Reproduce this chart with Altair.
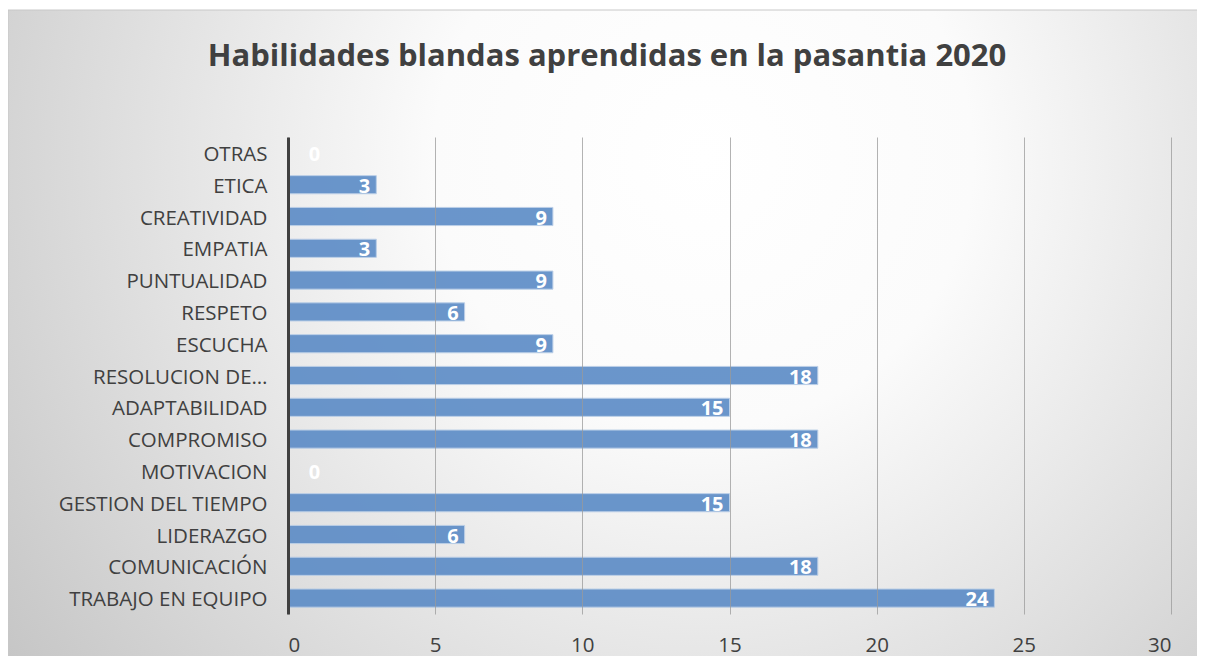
import altair as alt
import pandas as pd

categories = ["OTRAS", "ETICA", "CREATIVIDAD", "EMPATIA", "PUNTUALIDAD", "RESPETO",
              "ESCUCHA", "RESOLUCION DE…", "ADAPTABILIDAD", "COMPROMISO", "MOTIVACION",
              "GESTION DEL TIEMPO", "LIDERAZGO", "COMUNICACIÓN", "TRABAJO EN EQUIPO"]
values = [0, 3, 9, 3, 9, 6, 9, 18, 15, 18, 0, 15, 6, 18, 24]
x_ticks = [0, 5, 10, 15, 20, 25, 30]
title_text = "Habilidades blandas aprendidas en la pasantia 2020"

df = pd.DataFrame({"cat": categories, "v": values})

W, H = 883, 477
PL, PT, PR, PB = 280, 129, 26, 42

FONT = "Open Sans"

bg = alt.Chart(pd.DataFrame({"a": [0]})).mark_rect(
    color=alt.RadialGradient(
        gradient="radial",
        x1=0.58, y1=0.35, r1=0.0, x2=0.58, y2=0.35, r2=0.75,
        stops=[alt.GradientStop(offset=0, color="#ffffff"),
               alt.GradientStop(offset=0.3, color="#fbfbfb"),
               alt.GradientStop(offset=1, color="#c2c2c2")]),
    stroke="#c8c8c8", strokeWidth=1, clip=False,
).encode(x=alt.value(-PL), x2=alt.value(W + PR + 10), y=alt.value(-PT + 2), y2=alt.value(H + PB + 10))

title = alt.Chart(pd.DataFrame({"t": [title_text]})).mark_text(
    font=FONT, fontSize=31, fontWeight="bold", color="#404040",
    align="center", baseline="alphabetic",
).encode(x=alt.value(607 - 8 - PL), y=alt.value(66 - 8 - PT), text="t:N")

yenc = alt.Y("cat:N", sort=categories, title=None,
             scale=alt.Scale(paddingInner=0.43, paddingOuter=0.215),
             axis=alt.Axis(domain=True, domainColor="#404040", domainWidth=3, ticks=False,
                           labelFont=FONT, labelFontSize=20.5, labelColor="#404040",
                           labelPadding=21, labelLimit=300, labelOffset=2, grid=False, zindex=1))
xscale = alt.Scale(domain=[0, 30], nice=False)

bars = alt.Chart(df).mark_bar(color="#5b8bc6", opacity=0.9, stroke="#b5cbe6",
                              strokeWidth=1).encode(
    x=alt.X("v:Q", scale=xscale, title=None,
            axis=alt.Axis(values=x_ticks, grid=True, gridColor="#999999", gridOpacity=0.75,
                          domain=False, ticks=False, labelFont=FONT, labelFontSize=20.5,
                          labelColor="#404040", labelPadding=21, zindex=1)),
    y=yenc,
)

labels = alt.Chart(df).transform_calculate(
    lx="datum.v < 1 ? 1.3 : datum.v"
).mark_text(align="right", baseline="middle", dx=-6, dy=2, color="white",
            font=FONT, fontWeight="bold", fontSize=20).encode(
    x=alt.X("lx:Q", scale=xscale),
    y=alt.Y("cat:N", sort=categories),
    text="v:Q",
)

chart = alt.layer(bg, title, bars, labels).properties(
    width=W, height=H,
    autosize=alt.AutoSizeParams(type="none"),
    padding={"left": PL, "top": PT, "right": PR, "bottom": PB},
).configure_view(stroke=None).configure(background="white")

chart.save("out.html", embed_options={"renderer": "svg", "actions": False})
